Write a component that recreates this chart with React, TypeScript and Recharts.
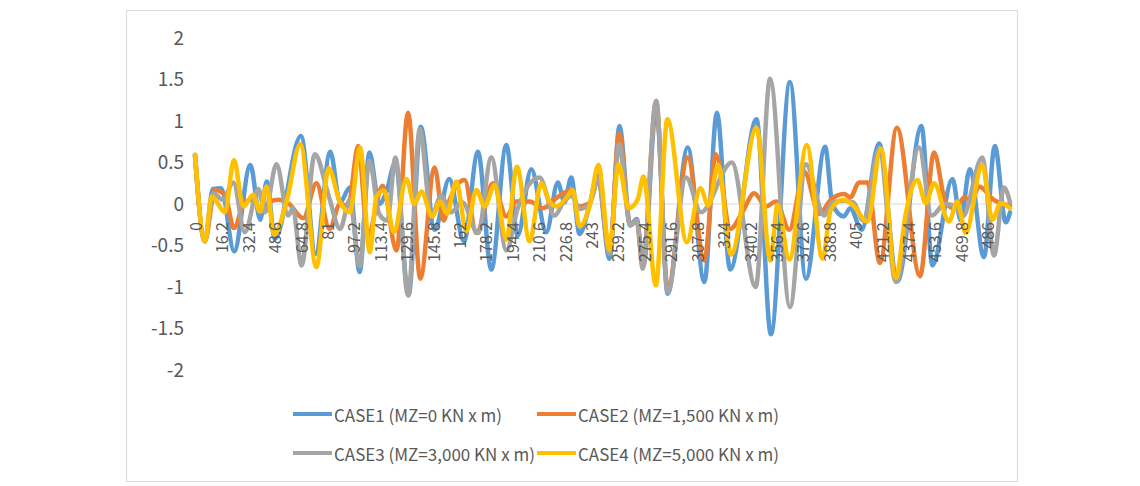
import React from "react";
import { LineChart, Line, XAxis, YAxis, ReferenceLine } from "recharts";

// x positions (load position) and values, per series
const case1X = [0, 6, 11, 16, 24, 34, 40, 44, 49, 65, 74, 83, 89, 95, 101, 107, 113, 117, 123, 131, 138.5, 147, 156, 165, 173.6, 181.8, 191, 198, 206.3, 215.5, 222.6, 226.7, 230.8, 235.9, 242, 247, 254.3, 260.4, 267, 271, 275, 283, 290, 302.3, 312.5, 320.2, 328.3, 344.5, 353.3, 365, 374.8, 386.6, 391, 398, 402, 409, 419.7, 431, 445.7, 452.4, 464.7, 469.8, 475.3, 484, 490.7, 497.4, 500];
const case1Y = [0.59, -0.45, 0.18, 0.19, -0.57, 0.47, -0.19, 0.27, -0.42, 0.82, -0.6, 0.63, 0.02, 0.2, -0.82, 0.62, 0.0, 0.12, 0.5, -1.1, 0.93, -0.31, 0.3, -0.45, 0.63, -0.79, 0.71, -0.38, 0.42, -0.34, 0.26, 0.02, 0.32, -0.36, -0.02, 0.35, -0.66, 0.94, -0.25, -0.18, -0.75, 1.15, -1.08, 0.68, -0.94, 1.1, -0.79, 1.02, -1.57, 1.47, -0.9, 0.69, 0.0, -0.15, -0.05, -0.31, 0.73, -0.93, 0.94, -0.74, 0.3, -0.2, 0.42, -0.64, 0.7, -0.22, -0.1];

const case2X = [0, 6, 12.3, 18.4, 23.9, 30.6, 35.7, 40.8, 45.9, 51, 57.2, 66.4, 74.5, 82.5, 89, 94, 100.1, 106, 115.2, 123.6, 130.7, 138.2, 147, 152.5, 156.2, 165.4, 172.6, 182.8, 191, 197.1, 205.3, 213.5, 221.6, 230.8, 234.9, 242, 247.5, 254.3, 260.2, 267, 271, 274.7, 282.9, 290, 302.3, 312.5, 319.5, 328.5, 336, 343.1, 350.3, 356.4, 364.6, 373.8, 383, 390, 398.3, 402, 407.5, 412.6, 420.2, 430.6, 444.8, 453.4, 460.5, 466.6, 472, 476, 481, 490, 500];
const case2Y = [0.59, -0.45, 0.17, 0.11, -0.29, 0.03, 0.05, -0.09, 0.03, 0.05, 0.01, -0.17, 0.25, -0.3, 0.0, -0.02, 0.7, -0.38, 0.22, -0.56, 1.1, -0.9, 0.44, -0.2, 0.05, 0.29, -0.35, 0.25, -0.15, 0.03, 0.03, -0.05, 0.07, 0.17, -0.03, 0.01, 0.3, -0.6, 0.85, -0.26, -0.2, -0.74, 1.24, -1.02, 0.56, -0.68, 0.6, -0.3, -0.09, 0.13, -0.03, 0.03, -0.31, 0.39, -0.12, 0.05, 0.12, 0.08, 0.26, 0.26, -0.71, 0.92, -0.87, 0.62, 0.02, -0.06, 0.08, 0.02, 0.21, 0.05, -0.02];

const case3X = [0, 6, 11.3, 17, 23.5, 30.6, 38.8, 43, 50, 57.2, 60, 65.4, 73.5, 82, 89, 95, 101, 107, 113, 118, 123, 130.7, 137.9, 145, 151, 157, 164, 173.6, 181.8, 191, 198, 211.4, 220.6, 226, 231, 236, 242, 247.5, 254.3, 260.2, 267, 271, 274.7, 282.9, 290, 301.3, 310.4, 329.3, 344, 352.8, 365, 374.8, 386, 391, 398, 404, 410, 419.7, 430, 444.2, 452, 460, 466, 471, 483, 490.2, 496.3, 500];
const case3Y = [0.59, -0.45, 0.13, 0.05, 0.26, -0.34, 0.18, -0.1, 0.48, -0.14, -0.05, -0.74, 0.6, 0.1, -0.3, 0.05, -0.75, 0.52, -0.12, -0.2, 0.56, -1.1, 0.9, -0.15, 0.1, -0.1, 0.02, -0.35, 0.56, -0.56, -0.05, 0.32, -0.14, 0.02, 0.1, -0.06, 0.0, 0.3, -0.6, 0.72, -0.26, -0.2, -0.78, 1.24, -1.06, 0.32, -0.1, 0.5, -1.0, 1.51, -1.24, 0.48, -0.14, 0.02, 0.04, 0.02, -0.2, 0.66, -0.94, 0.68, -0.14, 0.0, -0.02, -0.15, 0.56, -0.62, 0.2, 0.02];

const case4X = [0, 6.1, 10.2, 18.4, 23.9, 29.6, 35.7, 39.8, 43.9, 48.5, 56.2, 64.6, 74.5, 82, 88.8, 95, 101.3, 107.2, 111.3, 116, 122, 129.7, 134.5, 138.9, 145.5, 150.5, 154.5, 160.3, 166.5, 172.6, 177.7, 183.8, 191, 197.5, 205.3, 212.4, 217.5, 221.6, 227.7, 231.8, 235.9, 242, 247.5, 254.3, 259.8, 266, 271.5, 275.2, 282.7, 289.8, 301.8, 310, 315, 321, 328.8, 344.5, 353, 357.4, 364.6, 375.3, 385, 390.1, 397.5, 403.4, 412.6, 420.8, 430, 436.1, 443.2, 448.3, 453.4, 462.6, 467.7, 472.8, 483, 489.2, 494.3, 500];
const case4Y = [0.59, -0.45, 0.09, -0.1, 0.53, -0.03, 0.11, -0.09, 0.21, -0.37, 0.03, 0.72, -0.76, 0.43, 0.03, -0.1, 0.68, -0.58, 0.09, 0.16, -0.34, 0.3, 0.0, 0.15, -0.15, 0.03, -0.12, 0.27, -0.33, 0.17, -0.03, 0.23, -0.43, 0.45, -0.45, 0.25, 0.03, -0.03, 0.07, 0.17, -0.27, -0.03, 0.47, -0.55, 0.48, -0.05, 0.05, 0.33, -0.98, 1.02, -0.46, 0.19, -0.02, 0.47, -0.61, 0.92, -0.68, -0.01, -0.67, 0.71, -0.66, -0.07, 0.05, -0.01, -0.21, 0.67, -0.89, -0.11, 0.29, 0.01, 0.25, -0.21, 0.03, -0.35, 0.47, -0.19, 0.01, -0.05];

const xTicks = [0, 16.2, 32.4, 48.6, 64.8, 81, 97.2, 113.4, 129.6, 145.8, 162, 178.2, 194.4, 210.6, 226.8, 243, 259.2, 275.4, 291.6, 307.8, 324, 340.2, 356.4, 372.6, 388.8, 405, 421.2, 437.4, 453.6, 469.8, 486];
const yTicks = [-2, -1.5, -1, -0.5, 0, 0.5, 1, 1.5, 2];

const seriesNames = [
  "CASE1 (MZ=0 KN x m)",
  "CASE2 (MZ=1,500 KN x m)",
  "CASE3 (MZ=3,000 KN x m)",
  "CASE4 (MZ=5,000 KN x m)",
];
const seriesColors = ["#5B9BD5", "#ED7D31", "#A5A5A5", "#FFC000"];

const toPoints = (xs: number[], ys: number[]) => xs.map((x, i) => ({ x, y: ys[i] }));
const seriesData = [
  toPoints(case1X, case1Y),
  toPoints(case2X, case2Y),
  toPoints(case3X, case3Y),
  toPoints(case4X, case4Y),
];

const FONT = "'Noto Sans CJK KR', 'Noto Sans', sans-serif";
const TEXT = "#595959";
const W = 890;
const H = 470;
const M_TOP = 27;
const PLOT_BOTTOM = 359;
const X_AXIS_H = 30;
const PLOT_H = PLOT_BOTTOM - M_TOP;
const ZERO_Y = M_TOP + PLOT_H / 2;

const XTick = (props: any) => {
  const { x, payload } = props;
  return (
    <text
      transform={`translate(${x},${ZERO_Y + 18}) rotate(-90)`}
      textAnchor="end"
      dominantBaseline="central"
      fill={TEXT}
      fontSize={16}
      fontFamily={FONT}
    >
      {String(payload.value)}
    </text>
  );
};

const legendPos = [
  { left: 166, top: 403 },
  { left: 410, top: 403 },
  { left: 166, top: 442 },
  { left: 410, top: 442 },
];

export default function App() {
  return (
    <div
      style={{
        position: "relative",
        marginLeft: 118,
        marginTop: 2,
        width: W,
        height: H,
        border: "1px solid #D9D9D9",
        background: "#fff",
        fontFamily: FONT,
      }}
    >
      <LineChart
        width={W}
        height={H}
        margin={{ top: M_TOP, right: 4, left: 0, bottom: H - PLOT_BOTTOM - X_AXIS_H }}
      >
        <XAxis
          dataKey="x"
          type="number"
          domain={[0, 500]}
          ticks={xTicks}
          interval={0}
          padding={{ left: 2, right: 3 }}
          axisLine={false}
          tickLine={false}
          height={X_AXIS_H}
          tick={(p: any) => <XTick key={p.index} {...p} />}
        />
        <YAxis
          type="number"
          domain={[-2, 2]}
          ticks={yTicks}
          interval={0}
          width={66}
          axisLine={false}
          tickLine={false}
          tickSize={0}
          tickMargin={9}
          tick={{ fill: TEXT, fontSize: 19, fontFamily: FONT }}
        />
        <ReferenceLine y={0} stroke="#D9D9D9" strokeWidth={1} />
        {seriesData.map((d, i) => (
          <Line
            key={seriesNames[i]}
            data={d}
            dataKey="y"
            name={seriesNames[i]}
            type="monotone"
            stroke={seriesColors[i]}
            strokeWidth={4.5}
            strokeLinejoin="round"
            strokeLinecap="round"
            dot={false}
            activeDot={false}
            isAnimationActive={false}
          />
        ))}
      </LineChart>
      {seriesNames.map((n, i) => (
        <div
          key={n}
          style={{
            position: "absolute",
            left: legendPos[i].left,
            top: legendPos[i].top - 12,
            height: 24,
            display: "flex",
            alignItems: "center",
            whiteSpace: "nowrap",
          }}
        >
          <div style={{ width: 39, height: 4, background: seriesColors[i], marginRight: 2 }} />
          <span style={{ fontSize: 17, color: TEXT, fontFamily: FONT }}>{n}</span>
        </div>
      ))}
    </div>
  );
}
